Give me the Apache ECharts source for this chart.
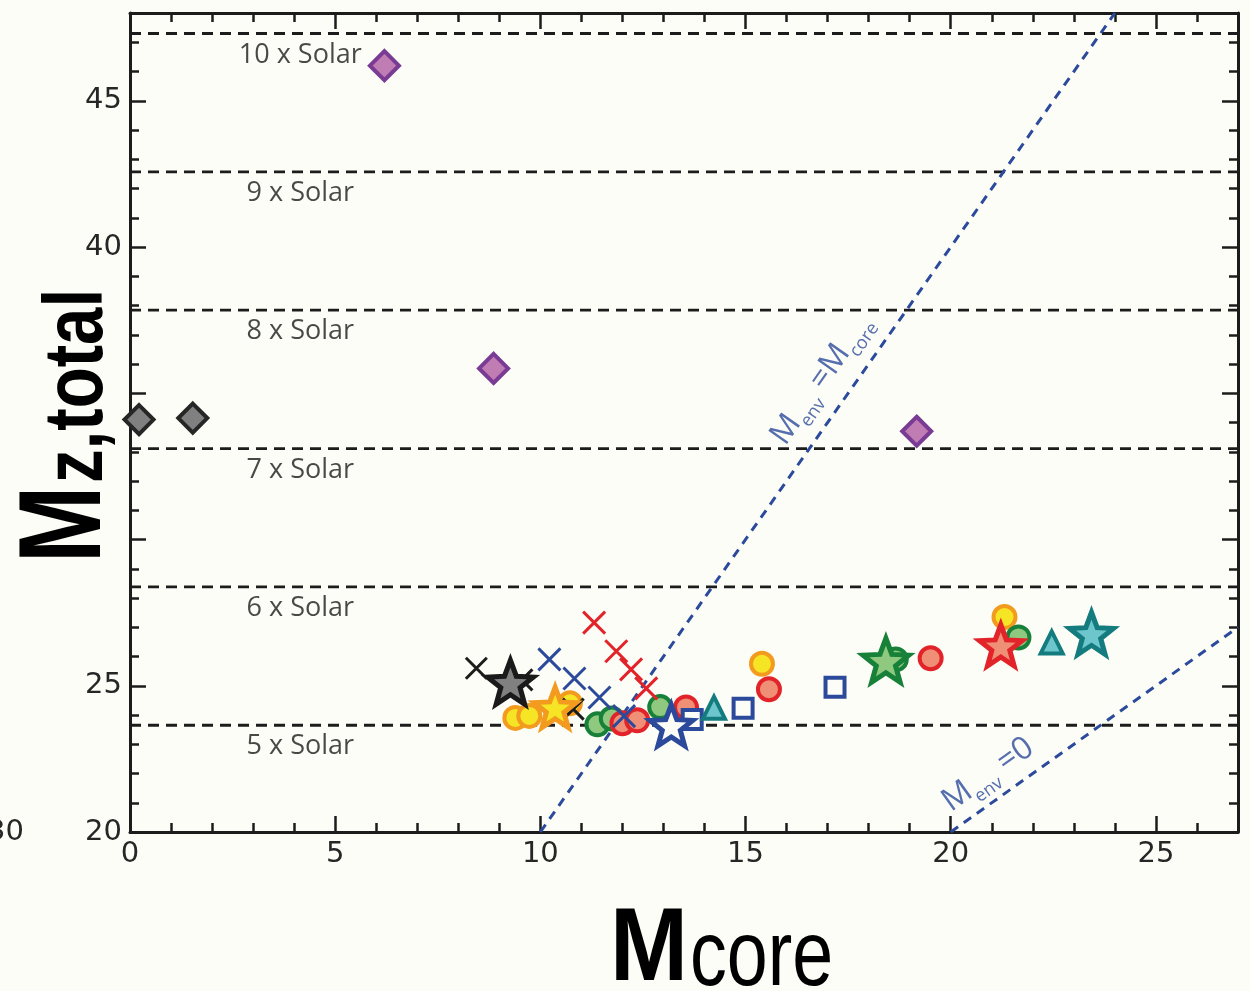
<!DOCTYPE html>
<html>
<head>
<meta charset="utf-8">
<script src="https://cdn.jsdelivr.net/npm/echarts@6/dist/echarts.min.js"></script>
<style>
  html, body { margin: 0; padding: 0; background: #fdfdf7; }
  #chart { width: 1250px; height: 991px; }
</style>
</head>
<body>
<div id="chart"></div>
<script>
// ---------- axis ticks ----------
const xMajorTicks = [0, 5, 10, 15, 20, 25];
const xMinorTicks = [1, 2, 3, 4, 6, 7, 8, 9, 11, 12, 13, 14, 16, 17, 18, 19, 21, 22, 23, 24, 26];
const yMajorTicks = [20, 25, 30, 35, 40, 45];
const yMinorTicks = [21, 22, 23, 24, 26, 27, 28, 29, 31, 32, 33, 34, 36, 37, 38, 39, 41, 42, 43, 44, 46, 47];
const yTickLabels = [20, 25, 40, 45];

// ---------- metallicity reference levels ----------
const solarLevels = [23.65, 28.38, 33.11, 37.84, 42.57, 47.30];
const solarNames = ['5 x Solar', '6 x Solar', '7 x Solar', '8 x Solar', '9 x Solar', '10 x Solar'];

// ---------- guide lines (M_core, M_z,total) ----------
const envEqualsCoreLine = [[10, 20], [24, 48]];
const envZeroLine = [[20, 20], [27, 27]];

// ---------- models (M_core, M_z,total) ----------
const purpleDiamonds = [[6.20, 46.20], [8.86, 35.85], [19.17, 33.70]];
const grayDiamonds = [[0.22, 34.10], [1.53, 34.15]];
const yellowCircles = [[9.39, 23.90], [9.73, 23.97], [10.72, 24.40], [15.40, 25.75], [21.31, 27.35]];
const greenCircles = [[11.39, 23.68], [11.74, 23.88], [12.92, 24.27], [18.66, 25.90], [21.65, 26.65]];
const redCircles = [[12.00, 23.72], [12.36, 23.82], [13.55, 24.26], [15.57, 24.88], [19.51, 25.94]];
const blueSquares = [[13.70, 23.85], [14.94, 24.23], [17.18, 24.95]];
const tealTriangles = [[14.23, 24.25], [22.46, 26.48]];
const blackCrosses = [[8.44, 25.60], [9.55, 25.20], [10.80, 24.20]];
const blueCrosses = [[10.22, 25.90], [10.83, 25.25], [11.44, 24.60], [12.04, 23.96]];
const redCrosses = [[11.31, 27.16], [11.85, 26.18], [12.21, 25.56], [12.58, 24.91]];
const grayStar = [[9.27, 25.12]];
const yellowStar = [[10.36, 24.26]];
const blueStar = [[13.19, 23.65]];
const greenStar = [[18.42, 25.87]];
const redStar = [[21.22, 26.38]];
const tealStar = [[23.43, 26.79]];

// ---------- drawing ----------
const STAR = 'path://M50,0 L62.34,33.01 L97.55,34.55 L69.97,56.49 L79.39,90.45 L50,71 L20.61,90.45 L30.03,56.49 L2.45,34.55 L37.66,33.01 Z';
const CROSS = 'path://M0,0 L10,10 M0,10 L10,0';
const BG = '#fdfdf7';
const INK = '#1c1c1c';
const NAVY = '#2c4a9b';

const YELLOW = { fill: '#f6e524', edge: '#f29b1f' };
const GREEN = { fill: '#8fc97f', edge: '#178139' };
const RED = { fill: '#ef8f76', edge: '#e2242a' };
const TEAL = { fill: '#6cc6cb', edge: '#147c7e' };

function markers(data, symbol, size, fill, edge, width) {
  return {
    type: 'scatter', data, symbol, symbolSize: size,
    itemStyle: { color: fill, borderColor: edge, borderWidth: width, opacity: 1 },
    emphasis: { disabled: true }, silent: true, z: 3
  };
}

const tickFont = { fontFamily: 'DejaVu Sans', fontSize: 29, color: '#262626' };

function frameAxis(position, values, len, withLine, labels) {
  return {
    type: 'value', position,
    axisLine: { show: withLine, onZero: false, lineStyle: { color: INK, width: 3 } },
    axisTick: { show: true, inside: true, length: len, customValues: values, lineStyle: { color: INK, width: 2.5 } },
    axisLabel: labels ? Object.assign({ show: true, customValues: labels, margin: 8 }, tickFont) : { show: false },
    splitLine: { show: false }
  };
}

const xAxes = [
  frameAxis('bottom', xMajorTicks, 16, true, xMajorTicks),
  frameAxis('bottom', xMinorTicks, 9, false, null),
  frameAxis('top', xMajorTicks, 16, true, null),
  frameAxis('top', xMinorTicks, 9, false, null)
].map(a => Object.assign(a, { min: 0, max: 27 }));

const yAxes = [
  frameAxis('left', yMajorTicks, 16, true, yTickLabels),
  frameAxis('left', yMinorTicks, 9, false, null),
  frameAxis('right', yMajorTicks, 16, true, null),
  frameAxis('right', yMinorTicks, 9, false, null)
].map(a => Object.assign(a, { min: 20, max: 48 }));

const series = [];

// dashed metallicity levels with their names
solarLevels.forEach(v => {
  series.push({
    type: 'line', data: [[0, v], [27, v]], symbol: 'none', silent: true, z: 1,
    lineStyle: { color: INK, width: 2.8, type: [11, 7] }
  });
});
series.push({
  type: 'scatter', symbolSize: 0, silent: true, z: 1,
  data: solarLevels.map((v, i) => ({ value: [4.15, v], name: solarNames[i] })),
  label: {
    show: true, position: 'bottom', distance: 8, formatter: p => p.name,
    fontFamily: 'Open Sans', fontSize: 27, color: '#1a1a1a'
  }
});

// guide lines
[envEqualsCoreLine, envZeroLine].forEach(d => {
  series.push({
    type: 'line', data: d, symbol: 'none', silent: true, z: 1,
    lineStyle: { color: NAVY, width: 3, type: [9, 7] }
  });
});
const guideRich = {
  m: { fontFamily: 'Open Sans', fontSize: 32, color: NAVY, verticalAlign: 'bottom', padding: [0, 0, 6, 0] },
  s: { fontFamily: 'Open Sans', fontSize: 18, color: NAVY, verticalAlign: 'bottom' }
};
series.push({
  type: 'scatter', symbolSize: 0, silent: true, z: 1,
  data: [{ value: [16.9, 35.42], name: '{m|M}{s|env}{m| =M}{s|core}', rot: 55 },
         { value: [20.95, 21.88], name: '{m|M}{s|env}{m| =0}', rot: 35.5 }].map(d => ({
    value: d.value, name: d.name,
    label: { rotate: d.rot }
  })),
  label: { show: true, position: 'inside', formatter: p => p.name, rich: guideRich }
});

// model points
series.push(markers(purpleDiamonds, 'diamond', 29, '#c07db3', '#7a3b95', 4));
series.push(markers(grayDiamonds, 'diamond', 29, '#808080', '#262626', 4));
series.push(markers(yellowCircles, 'circle', 22, YELLOW.fill, YELLOW.edge, 4));
series.push(markers(greenCircles, 'circle', 22, GREEN.fill, GREEN.edge, 4));
series.push(markers(redCircles, 'circle', 22, RED.fill, RED.edge, 4));
series.push(markers(blueSquares, 'rect', 19, BG, NAVY, 4));
series.push(markers(tealTriangles, 'triangle', 22, TEAL.fill, TEAL.edge, 4));
series.push(markers(blackCrosses, CROSS, 21, 'rgba(0,0,0,0)', INK, 3));
series.push(markers(grayStar, STAR, [46, 44], '#808080', '#1a1a1a', 5));
series.push(markers(yellowStar, STAR, [42, 40], YELLOW.fill, YELLOW.edge, 5));
series.push(markers(blueStar, STAR, [43, 41], BG, NAVY, 5));
series.push(markers(greenStar, STAR, [46, 44], GREEN.fill, GREEN.edge, 5));
series.push(markers(redStar, STAR, [43, 41], RED.fill, RED.edge, 5));
series.push(markers(tealStar, STAR, [44, 42], TEAL.fill, TEAL.edge, 5));
series.push(markers(blueCrosses, CROSS, 22, 'rgba(0,0,0,0)', NAVY, 3));
series.push(markers(redCrosses, CROSS, 22, 'rgba(0,0,0,0)', RED.edge, 3));

const chart = echarts.init(document.getElementById('chart'), null, { renderer: 'canvas' });
chart.setOption({
  backgroundColor: BG,
  animation: false,
  grid: { left: 130, right: 12, top: 13, bottom: 159, containLabel: false },
  xAxis: xAxes,
  yAxis: yAxes,
  series,
  graphic: [
    // axis titles
    { type: 'text', x: 126, y: 563, rotation: Math.PI / 2, scaleX: 0.8, z: 10,
      style: { text: 'M', font: 'bold 116px "Liberation Sans"', fill: '#000', align: 'left', verticalAlign: 'bottom' } },
    { type: 'text', x: 121, y: 483, rotation: Math.PI / 2, scaleX: 0.8, z: 10,
      style: { text: 'z,total', font: 'bold 84px "Liberation Sans"', fill: '#000', align: 'left', verticalAlign: 'bottom' } },
    { type: 'text', x: 610, y: 1003, scaleX: 0.9, z: 10,
      style: { text: 'M', font: 'bold 104px "Liberation Sans"', fill: '#000', align: 'left', verticalAlign: 'bottom' } },
    { type: 'text', x: 690, y: 1006, scaleX: 0.8, z: 10,
      style: { text: 'core', font: '92px "Liberation Sans"', fill: '#000', align: 'left', verticalAlign: 'bottom' } },
    { type: 'text', x: 24, y: 832, z: 10,
      style: { text: '30', font: '29px "DejaVu Sans"', fill: '#262626', align: 'right', verticalAlign: 'middle' } }
  ]
});
</script>
</body>
</html>
